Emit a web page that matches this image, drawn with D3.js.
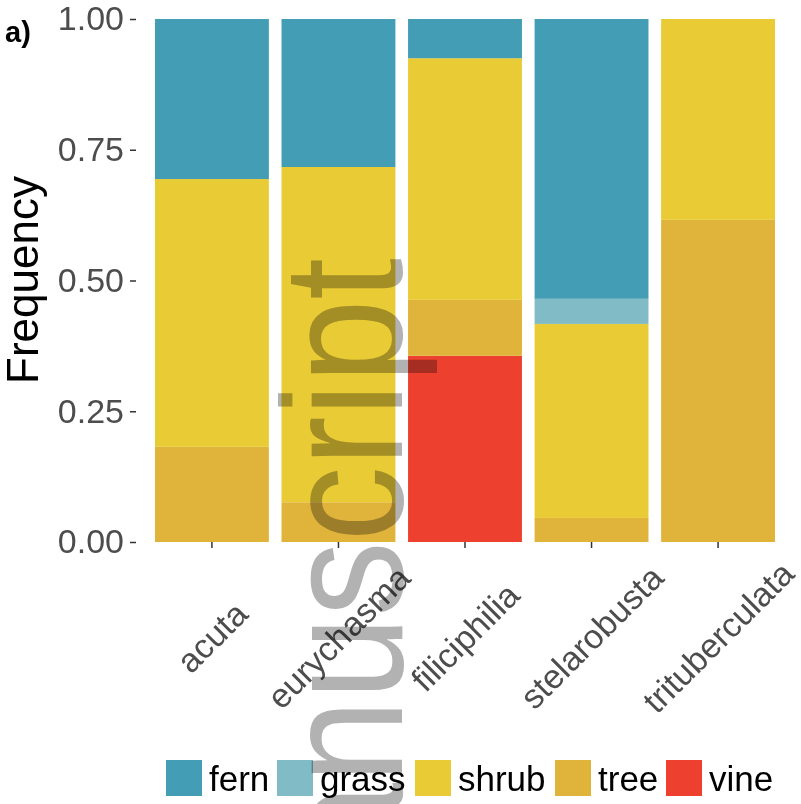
<!DOCTYPE html>
<html>
<head>
<meta charset="utf-8">
<script src="https://cdn.jsdelivr.net/npm/d3@7"></script>
<style>
  html, body { margin: 0; padding: 0; background: #fff; }
  svg { display: block; font-family: "Liberation Sans", Arial, sans-serif; }
</style>
</head>
<body>
<svg id="chart" width="801" height="804"></svg>
<script>
// Species (x categories)
const categories = ["acuta", "eurychasma", "filiciphilia", "stelarobusta", "trituberculata"];

// Growth-form frequencies per species
const fern  = [0.306, 0.283, 0.075, 0.535, 0.000];
const grass = [0.000, 0.000, 0.000, 0.048, 0.000];
const shrub = [0.512, 0.641, 0.462, 0.371, 0.384];
const tree  = [0.182, 0.076, 0.107, 0.046, 0.616];
const vine  = [0.000, 0.000, 0.356, 0.000, 0.000];

const legendKeys = ["fern", "grass", "shrub", "tree", "vine"];
const yTicks = [0, 0.25, 0.5, 0.75, 1];

const colors = {
  fern: "#439DB5",
  grass: "#80BBC6",
  shrub: "#E9CB35",
  tree: "#E0B33A",
  vine: "#EE402F"
};

// Rows for the stack
const seriesByKey = { fern, grass, shrub, tree, vine };
const rows = categories.map((c, i) => {
  const r = { species: c };
  legendKeys.forEach(k => { r[k] = seriesByKey[k][i]; });
  return r;
});

const svg = d3.select("#chart");

const x = d3.scaleBand()
  .domain(categories)
  .range([136, 794])
  .paddingInner(0.1)
  .paddingOuter(0.15);

const y = d3.scaleLinear().domain([0, 1]).range([542, 19]);

// first factor level sits on top of each bar
const stack = d3.stack().keys(["vine", "tree", "shrub", "grass", "fern"]);
const layers = stack(rows);

svg.append("g").selectAll("g")
  .data(layers)
  .join("g")
  .attr("fill", d => colors[d.key])
  .selectAll("rect")
  .data(d => d)
  .join("rect")
  .attr("x", d => x(d.data.species))
  .attr("width", x.bandwidth())
  .attr("y", d => y(d[1]))
  .attr("height", d => y(d[0]) - y(d[1]));

// y axis
const yAxis = svg.append("g")
  .attr("transform", "translate(136,0)")
  .call(d3.axisLeft(y).tickValues(yTicks).tickFormat(d3.format(".2f")).tickSize(6).tickPadding(6));
yAxis.select(".domain").remove();
yAxis.selectAll(".tick line").attr("stroke", "#333").attr("stroke-width", 1.5);
yAxis.selectAll(".tick text")
  .attr("fill", "#4D4D4D")
  .style("font-size", "34px")
  .style("font-family", "'Liberation Sans', Arial, sans-serif");

// x axis
const xAxis = svg.append("g")
  .attr("transform", "translate(0,542)")
  .call(d3.axisBottom(x).tickSize(6).tickFormat(""));
xAxis.select(".domain").remove();
xAxis.selectAll(".tick line").attr("stroke", "#333").attr("stroke-width", 1.5);

svg.append("g").selectAll("text")
  .data(categories)
  .join("text")
  .attr("transform", d => `translate(${x(d) + x.bandwidth() / 2},637) rotate(-45)`)
  .attr("text-anchor", "middle")
  .attr("dominant-baseline", "central")
  .attr("fill", "#4D4D4D")
  .style("font-size", "34px")
  .text(d => d);

// y title
svg.append("text")
  .attr("transform", "translate(38,280) rotate(-90)")
  .attr("text-anchor", "middle")
  .attr("fill", "#000")
  .style("font-size", "44px")
  .text("Frequency");

// panel tag
svg.append("text")
  .attr("x", 5)
  .attr("y", 42)
  .attr("fill", "#000")
  .style("font-size", "29px")
  .style("font-weight", "bold")
  .text("a)");

// legend
const legendX = [166, 277, 415, 555, 666];
const legend = svg.append("g");
legendKeys.forEach((k, i) => {
  legend.append("rect")
    .attr("x", legendX[i]).attr("y", 760)
    .attr("width", 36).attr("height", 36)
    .attr("fill", colors[k]);
  legend.append("text")
    .attr("x", legendX[i] + 43).attr("y", 778)
    .attr("dominant-baseline", "central")
    .attr("fill", "#000")
    .style("font-size", "35px")
    .text(k);
});

// watermark
svg.append("text")
  .attr("transform", "translate(402,258) rotate(-90) scale(1,1.14)")
  .attr("text-anchor", "end")
  .attr("fill", "#B2B2B2")
  .style("mix-blend-mode", "multiply")
  .style("font-size", "150px")
  .text("Manuscript");
</script>
</body>
</html>
